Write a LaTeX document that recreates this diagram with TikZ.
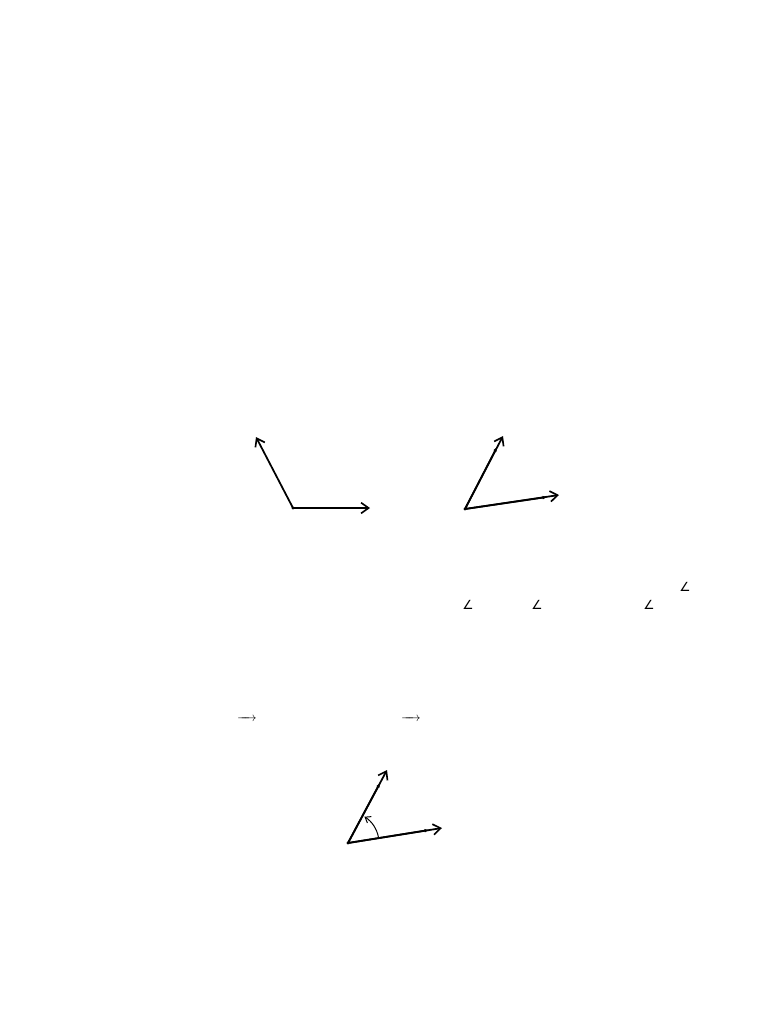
\documentclass[tikz,border=0pt]{standalone}
\usepackage{fontspec}
\newfontfamily\symfont{DejaVu Sans}
\usetikzlibrary{arrows.meta}
\begin{document}
\begin{tikzpicture}[x=0.797pt,y=-0.797pt,
  vec/.style={line width=1.4pt,-{Straight Barb[length=6pt,width=8.5pt,line width=1.3pt]}},
  tickarrow/.style={line width=1.4pt,-{Latex[length=3.5pt,width=3pt]}},
  arcarrow/.style={line width=0.8pt,-{Straight Barb[length=4pt,width=6pt,line width=0.8pt]}},
  sym/.style={inner sep=0pt,font=\symfont\normalsize},
  vsym/.style={inner sep=0pt,font=\normalsize}]
\useasboundingbox[fill=white] (0,0) rectangle (768,1024);
% diagram 1
\coordinate (O1) at (293,508);
\coordinate (A1) at (370,508);
\coordinate (B1) at (256,437);
\draw[vec] (O1) -- (A1);
\draw[vec] (O1) -- (B1);
\fill (O1) circle (1.6);
% diagram 2
\coordinate (O2) at (465,509);
\coordinate (A2) at (559,495);
\coordinate (A2m) at (547,497);
\coordinate (B2) at (503,436);
\coordinate (B2m) at (497,447);
\draw[tickarrow] (O2) -- (A2m);
\draw[tickarrow] (O2) -- (B2m);
\draw[vec] (O2) -- (A2);
\draw[vec] (O2) -- (B2);
\fill (O2) circle (1.6);
% angle symbols
\node[sym] (s1) at (468,605) {∠};
\node[sym] (s2) at (537,605) {∠};
\node[sym] (s3) at (649,605) {∠};
\node[sym] (s4) at (685,587) {∠};
% vector arrows
\node[vsym] (v1) at (247,719) {$\overrightarrow{\hphantom{AB}}$};
\node[vsym] (v2) at (411,719) {$\overrightarrow{\hphantom{AB}}$};
% diagram 3
\coordinate (O3) at (348,843);
\coordinate (A3) at (442,828);
\coordinate (A3m) at (429,830);
\coordinate (B3) at (387,770);
\coordinate (B3m) at (380,783);
\draw[tickarrow] (O3) -- (A3m);
\draw[tickarrow] (O3) -- (B3m);
\draw[vec] (O3) -- (A3);
\draw[vec] (O3) -- (B3);
\fill (O3) circle (1.6);
\draw[arcarrow] ([shift={(-10:31)}]O3) arc[start angle=-10,end angle=-58,radius=31];
\end{tikzpicture}
\end{document}
